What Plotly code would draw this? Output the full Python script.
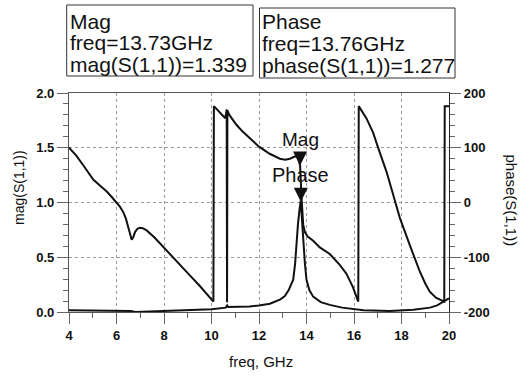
import plotly.graph_objects as go

# ---------------- data ----------------
# trace 1: mag(S(1,1)) -> left axis (sawtooth-like trace)
freq_mag = [4.00, 4.30, 4.60, 4.85, 5.02, 5.30, 5.59, 5.80, 6.00, 6.15, 6.29, 6.40,
            6.50, 6.58, 6.64, 6.70, 6.78, 6.88, 6.99, 7.10, 7.27, 7.60, 8.00, 8.50,
            9.00, 9.50, 10.08, 10.10, 10.35, 10.58, 10.64, 10.655, 10.67, 10.75,
            11.05, 11.30, 11.61, 12.00, 12.45, 12.88, 13.10, 13.30, 13.50, 13.60,
            13.68, 13.73, 13.79, 13.86, 13.93, 14.05, 14.28, 14.56, 14.98, 15.40,
            15.68, 15.95, 16.18, 16.20, 16.52, 16.80, 17.08, 17.37, 17.65, 17.93,
            18.35, 18.77, 19.00, 19.19, 19.45, 19.75, 19.80, 19.82, 20.00]
mag_vals = [1.50, 1.43, 1.34, 1.26, 1.21, 1.155, 1.10, 1.05, 1.00, 0.96, 0.91, 0.85,
            0.77, 0.69, 0.66, 0.68, 0.73, 0.76, 0.77, 0.765, 0.745, 0.68, 0.59, 0.47,
            0.355, 0.24, 0.095, 1.88, 1.82, 1.77, 1.85, 0.09, 1.84, 1.80,
            1.71, 1.65, 1.585, 1.51, 1.445, 1.40, 1.39, 1.40, 1.42, 1.42,
            1.38, 1.339, 1.05, 0.80, 0.73, 0.69, 0.65, 0.59, 0.53, 0.43,
            0.35, 0.23, 0.095, 1.88, 1.77, 1.64, 1.46, 1.28, 1.07, 0.86,
            0.61, 0.37, 0.26, 0.185, 0.13, 0.095, 0.095, 1.88, 1.88]

# trace 2: phase(S(1,1)) -> right axis (narrow peak trace)
freq_phase = [4.0, 5.0, 6.0, 6.6, 6.8, 7.2, 8.0, 9.0, 10.0, 10.6, 10.66, 10.7,
              11.6, 12.0, 12.46, 12.9, 13.09, 13.25, 13.44, 13.52, 13.58, 13.64,
              13.70, 13.75, 13.76, 13.80, 13.86, 13.93, 14.0, 14.12, 14.28, 14.6,
              14.98, 15.5, 16.4, 17.5, 18.5, 19.2, 19.5, 19.75, 20.0]
phase_vals = [-197, -197, -197.5, -198, -200, -199.5, -198, -197, -195, -192, -188, -191,
              -190, -188, -185, -177, -171, -160, -141, -112, -70, -40,
              -15, 1.5, 1.277, -25, -69, -110, -141, -160, -172, -182,
              -187, -192, -197, -198, -196, -192, -188, -182, -175]

# markers
mk_names = ["Mag", "Phase"]
mk_freq = [13.73, 13.76]
mk_value = [1.339, 1.277]
mk_label = ["mag(S(1,1))", "phase(S(1,1))"]

x_ticks = [4, 6, 8, 10, 12, 14, 16, 18, 20]
y2_ticks = [-200, -100, 0, 100, 200]
y2_ticktext = ["-200", "-100", "0", "100", "200"]

# ---------------- layout helpers (pixel -> paper) ----------------
W, H = 522, 378
L, R, T, B = 69, 73, 93, 66
PW, PH = W - L - R, H - T - B


def px(x):
    return (x - L) / PW


def py(y):
    return (H - B - y) / PH


FONT = "Liberation Sans, Arial, sans-serif"
INK = "#111111"

fig = go.Figure()
fig.add_trace(go.Scatter(x=freq_mag, y=mag_vals, mode="lines", yaxis="y",
                         line=dict(color=INK, width=2), showlegend=False))
fig.add_trace(go.Scatter(x=freq_phase, y=phase_vals, mode="lines", yaxis="y2",
                         line=dict(color=INK, width=2), showlegend=False))
# marker triangles (tip on the data point)
fig.add_trace(go.Scatter(x=[mk_freq[0]], y=[mk_value[0]], mode="markers", yaxis="y",
                         marker=dict(symbol="arrow-down", size=14, color=INK),
                         cliponaxis=False, showlegend=False))
fig.add_trace(go.Scatter(x=[mk_freq[1]], y=[mk_value[1]], mode="markers", yaxis="y2",
                         marker=dict(symbol="arrow-down", size=14, color=INK),
                         cliponaxis=False, showlegend=False))

tickfont = dict(family=FONT, size=13, color=INK, weight="bold")
common = dict(ticks="outside", ticklen=11, tickcolor="#666", tickwidth=1,
              showline=True, linecolor="#555", linewidth=1.2,
              tickfont=tickfont, zeroline=False)

fig.update_layout(
    width=W, height=H,
    margin=dict(l=L, r=R, t=T, b=B, pad=0),
    paper_bgcolor="white", plot_bgcolor="white",
    font=dict(family=FONT, color=INK),
    xaxis=dict(range=[4, 20], tickvals=x_ticks, showgrid=True,
               gridcolor="#9a9a9a", griddash="dot", gridwidth=1,
               mirror=True,
               minor=dict(dtick=1, ticklen=5, tickcolor="#666", showgrid=False),
               **common),
    yaxis=dict(range=[0, 2], dtick=0.5, tickformat=".1f", showgrid=True,
               gridcolor="#9a9a9a", griddash="dot", gridwidth=1,
               minor=dict(dtick=0.1, ticklen=5, tickcolor="#666", showgrid=False),
               **common),
    yaxis2=dict(range=[-200, 200], tickvals=y2_ticks, ticktext=y2_ticktext,
                overlaying="y", side="right", showgrid=False,
                minor=dict(dtick=20, ticklen=5, tickcolor="#666", showgrid=False),
                **common),
)
fig.update_layout(yaxis2=dict(linecolor="#222"))

ann = []
# axis titles
ann.append(dict(text="freq, GHz", x=px(261), y=py(361), xref="paper", yref="paper",
                xanchor="center", yanchor="middle", showarrow=False,
                font=dict(size=15, family=FONT, color=INK)))
ann.append(dict(text=mk_label[0], x=px(19), y=py(188), xref="paper", yref="paper",
                xanchor="center", yanchor="middle", showarrow=False, textangle=-90,
                font=dict(size=14, family=FONT, color=INK)))
ann.append(dict(text=mk_label[1], x=px(511.5), y=py(200), xref="paper", yref="paper",
                xanchor="center", yanchor="middle", showarrow=False, textangle=90,
                font=dict(size=15, family=FONT, color=INK)))

# marker names above the triangles
ann.append(dict(text=mk_names[0], x=mk_freq[0], y=mk_value[0], xref="x", yref="y",
                xanchor="center", yanchor="middle", yshift=26, showarrow=False,
                font=dict(size=19, family=FONT, color=INK)))
ann.append(dict(text=mk_names[1], x=mk_freq[1], y=mk_value[1], xref="x", yref="y2",
                xanchor="center", yanchor="middle", yshift=27, showarrow=False,
                font=dict(size=20, family=FONT, color=INK)))

# marker readout boxes
box_left = [66.7, 259.5]
box_right = [253.0, 455.0]
box_top = [5.0, 8.0]
box_bot = [76.0, 78.0]
text_x = [68.5, 261.0]
line_centers = [[21.0, 42.7, 64.4], [21.5, 43.5, 66.0]]
shapes = []
for i in range(2):
    shapes.append(dict(type="rect", xref="paper", yref="paper",
                       x0=px(box_left[i]), x1=px(box_right[i]),
                       y0=py(box_bot[i]), y1=py(box_top[i]),
                       line=dict(color="#333", width=1), fillcolor="rgba(0,0,0,0)"))
    lines = [mk_names[i], f"freq={mk_freq[i]:.2f}GHz", f"{mk_label[i]}={mk_value[i]:.3f}"]
    for j, t in enumerate(lines):
        ann.append(dict(text=t, x=px(text_x[i]), y=py(line_centers[i][j]),
                        xref="paper", yref="paper", xanchor="left", yanchor="middle",
                        showarrow=False, borderpad=0,
                        font=dict(size=21, family=FONT, color=INK)))

fig.update_layout(annotations=ann, shapes=shapes)
fig.write_html("out.html")
